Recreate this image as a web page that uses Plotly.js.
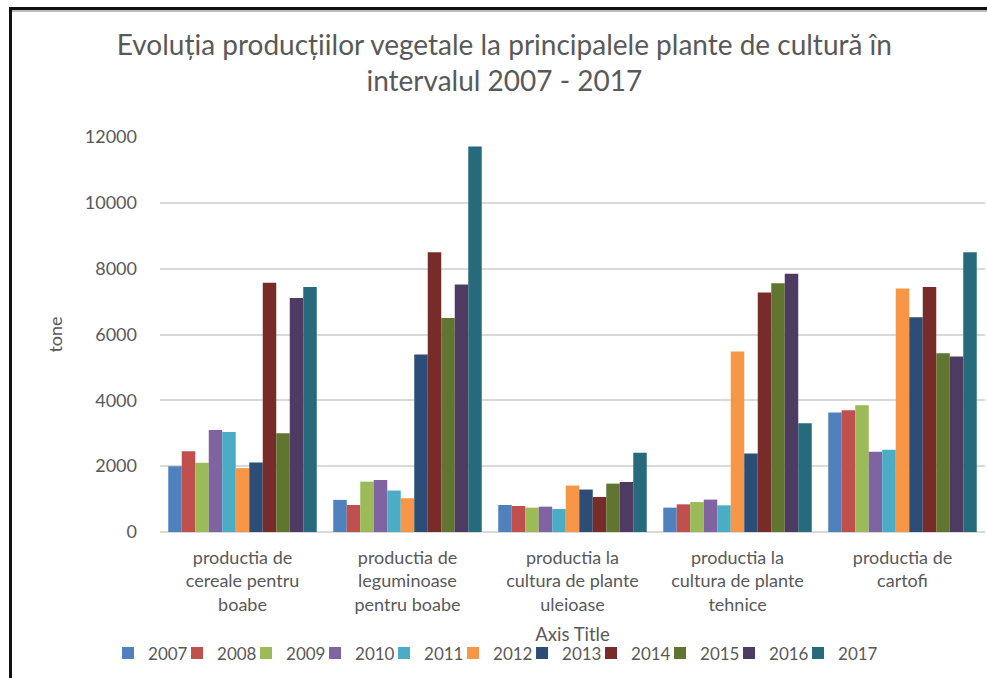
<!DOCTYPE html>
<html>
<head>
<meta charset="utf-8">
<script src="https://cdn.plot.ly/plotly-3.0.1.min.js"></script>
<style>
  html, body { margin: 0; padding: 0; background: #fff; }
  #wrap { position: relative; width: 987px; height: 678px; overflow: hidden; }
  #chart { position: absolute; left: 0; top: 0; width: 987px; height: 678px; }
  #frame { position: absolute; left: 9px; top: 7px; width: 1000px; height: 700px;
           border-left: 3px solid #111; border-top: 3px solid #111; pointer-events: none;
           box-shadow: inset 0 2px 0 #bbb; }
</style>
</head>
<body>
<div id="wrap">
  <div id="chart"></div>
  <div id="frame"></div>
</div>
<script>
const categories = [
  "productia de<br>cereale pentru<br>boabe",
  "productia de<br>leguminoase<br>pentru boabe",
  "productia la<br>cultura de plante<br>uleioase",
  "productia la<br>cultura de plante<br>tehnice",
  "productia de<br>cartofi"
];
const years = ["2007","2008","2009","2010","2011","2012","2013","2014","2015","2016","2017"];
// values per year, one entry per category
const v2007 = [2000, 975, 820, 740, 3630];
const v2008 = [2450, 820, 790, 840, 3700];
const v2009 = [2100, 1530, 740, 910, 3850];
const v2010 = [3100, 1580, 770, 985, 2440];
const v2011 = [3040, 1260, 700, 810, 2500];
const v2012 = [1940, 1025, 1410, 5480, 7400];
const v2013 = [2110, 5390, 1290, 2385, 6525];
const v2014 = [7570, 8500, 1065, 7275, 7440];
const v2015 = [3000, 6505, 1470, 7560, 5430];
const v2016 = [7110, 7520, 1520, 7845, 5330];
const v2017 = [7440, 11710, 2405, 3300, 8500];
const seriesValues = [v2007, v2008, v2009, v2010, v2011, v2012, v2013, v2014, v2015, v2016, v2017];
const colors = ["#4F81BD","#C0504D","#9BBB59","#8064A2","#4BACC6","#F79646","#2C4D75","#772C2A","#5F7530","#4D3B62","#276A7C"];
const yTicks = [0, 2000, 4000, 6000, 8000, 10000, 12000];

const FONT = "Lato, 'Open Sans', sans-serif";
const legendId = i => (i === 0 ? "legend" : "legend" + (i + 1));
const traces = years.map((y, i) => ({
  type: "bar",
  name: y,
  x: categories,
  y: seriesValues[i],
  marker: { color: colors[i], line: { width: 0 } },
  legend: legendId(i),
  hoverinfo: "x+y+name"
}));

const layout = {
  width: 987, height: 678,
  paper_bgcolor: "#fff", plot_bgcolor: "#fff",
  font: { family: FONT, color: "#595959", size: 17 },
  title: {
    text: "Evoluția producțiilor vegetale la principalele plante de cultură în<br>intervalul 2007 - 2017",
    font: { family: FONT, size: 28, color: "#595959" },
    x: 0.511, xanchor: "center", y: 0.919, yanchor: "middle"
  },
  margin: { l: 160, r: 2, t: 137, b: 146 },
  barmode: "group",
  bargap: 0.1,
  bargroupgap: 0,
  showlegend: true,
  xaxis: {
    type: "category",
    showgrid: false, zeroline: false, showline: false, ticks: "",
    ticklabelstandoff: 13,
    tickfont: { family: FONT, size: 18, color: "#595959" },
    title: { text: "Axis Title", font: { family: FONT, size: 18.5, color: "#595959" }, standoff: 14 },
    automargin: false
  },
  yaxis: {
    range: [0, 12000],
    tickvals: yTicks,
    ticktext: yTicks.map(String),
    showgrid: true, gridcolor: "#D9D9D9", gridwidth: 2,
    zeroline: true, zerolinecolor: "#D9D9D9", zerolinewidth: 2,
    showline: false, ticks: "",
    ticklabelstandoff: 22,
    tickfont: { family: FONT, size: 18, color: "#595959" },
    title: { text: "tone", font: { family: FONT, size: 18, color: "#595959" }, standoff: 17 },
    automargin: false
  }
};

// one small legend per series so entries sit at Excel-like spacing
const legendStart = -0.063, legendStep = 69 / 825;
years.forEach((y, i) => {
  layout[legendId(i)] = {
    orientation: "h", y: -0.262, yanchor: "top", xanchor: "left",
    x: legendStart + i * legendStep,
    font: { family: FONT, size: 17, color: "#595959" },
    itemwidth: 30, bgcolor: "rgba(0,0,0,0)"
  };
});

Plotly.newPlot("chart", traces, layout, { displayModeBar: false, staticPlot: true });
</script>
</body>
</html>
